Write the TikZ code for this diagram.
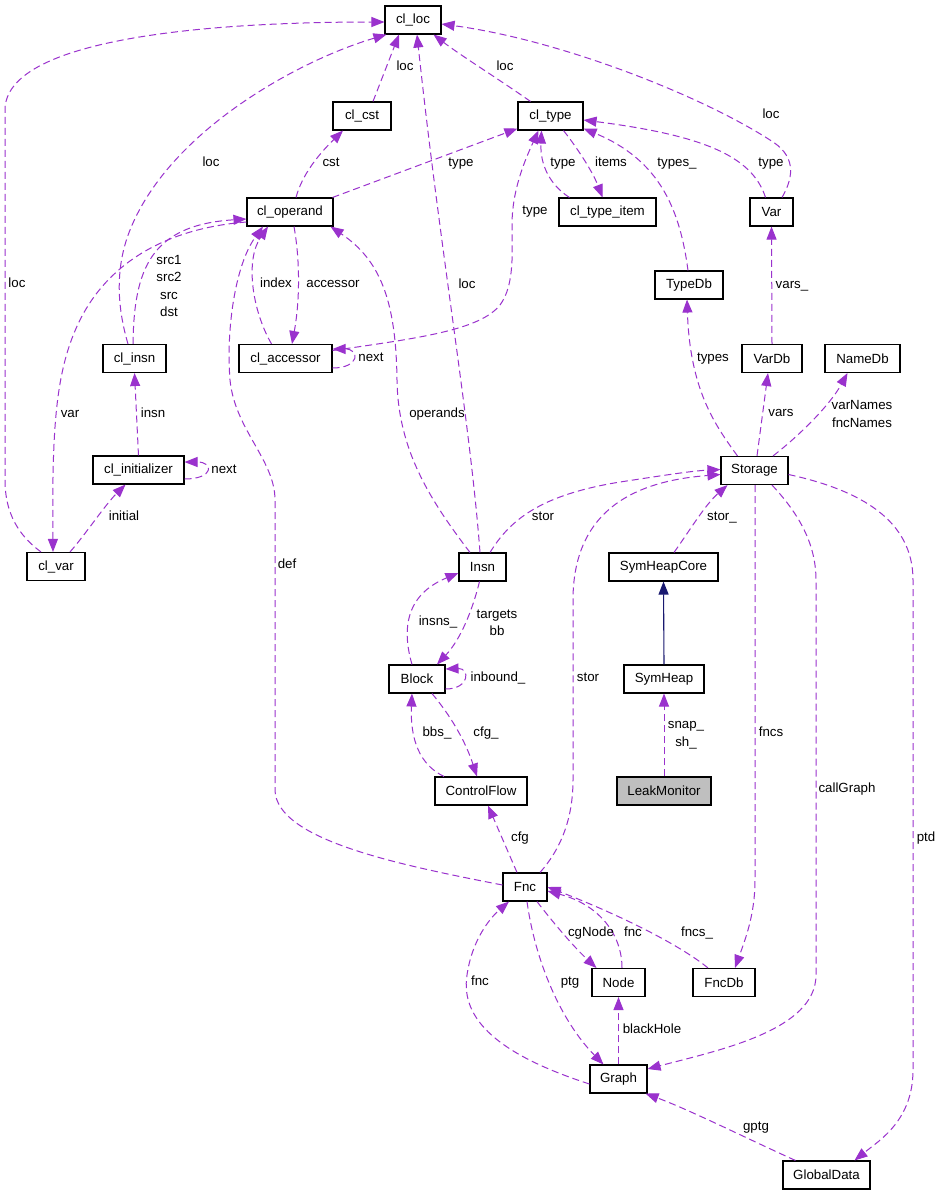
\documentclass[tikz,border=0pt]{standalone}
\usepackage{fontspec}
\setmainfont{Liberation Sans}
\usetikzlibrary{arrows.meta}
\definecolor{edgec}{HTML}{9A32CD}
\definecolor{inhc}{HTML}{191970}
\definecolor{leakfill}{HTML}{BFBFBF}
\newcommand\dxfont{\fontsize{13.3}{17.5}\selectfont}
\begin{document}
\begin{tikzpicture}[x=1pt,y=-1pt,
  cls/.style={draw=black, line width=1.1pt, fill=white, minimum height=28pt, inner sep=0pt, font=\dxfont},
  dep/.style={draw=edgec, line width=1pt, dash pattern=on 7pt off 4pt, -{Triangle[length=13pt,width=10pt]}},
  inh/.style={draw=inhc, line width=1.1pt, -{Triangle[length=13pt,width=10pt]}},
  lab/.style={font=\dxfont, inner sep=0pt, text height=9.5pt, text depth=2.5pt},
  mlab/.style={font=\dxfont, inner sep=0pt, align=center}]
\fill[white] (0,0) rectangle (941,1195);
\useasboundingbox (0,0) rectangle (941,1195);

% nodes
\node[cls, minimum width=56] (cl_loc) at (413,20) {cl\_loc};
\node[cls, minimum width=58] (cl_cst) at (362,116) {cl\_cst};
\node[cls, minimum width=65] (cl_type) at (550.5,116) {cl\_type};
\node[cls, minimum width=86] (cl_operand) at (290,212) {cl\_operand};
\node[cls, minimum width=97] (cl_type_item) at (607.5,212) {cl\_type\_item};
\node[cls, minimum width=43] (Var) at (771.5,212) {Var};
\node[cls, minimum width=68] (TypeDb) at (689,285) {TypeDb};
\node[cls, minimum width=63] (cl_insn) at (134.5,358.5) {cl\_insn};
\node[cls, minimum width=93] (cl_accessor) at (285.5,358.5) {cl\_accessor};
\node[cls, minimum width=60] (VarDb) at (772,358.5) {VarDb};
\node[cls, minimum width=75] (NameDb) at (862.5,358.5) {NameDb};
\node[cls, minimum width=91] (cl_initializer) at (138.5,470) {cl\_initializer};
\node[cls, minimum width=67] (Storage) at (754.5,470.5) {Storage};
\node[cls, minimum width=58] (cl_var) at (56,566.5) {cl\_var};
\node[cls, minimum width=47] (Insn) at (482.5,567) {Insn};
\node[cls, minimum width=109] (SymHeapCore) at (663.5,567) {SymHeapCore};
\node[cls, minimum width=56] (Block) at (417,679) {Block};
\node[cls, minimum width=80] (SymHeap) at (664,679) {SymHeap};
\node[cls, minimum width=92] (ControlFlow) at (481,791) {ControlFlow};
\node[cls, minimum width=94, fill=leakfill] (LeakMonitor) at (664,791) {LeakMonitor};
\node[cls, minimum width=44] (Fnc) at (525,887) {Fnc};
\node[cls, minimum width=53] (Node) at (618.5,982.5) {Node};
\node[cls, minimum width=62] (FncDb) at (724,982.5) {FncDb};
\node[cls, minimum width=57] (Graph) at (618.5,1079) {Graph};
\node[cls, minimum width=87] (GlobalData) at (826.5,1175) {GlobalData};

% edges to cl_loc
\draw[dep] ([xshift=-15pt]cl_var.north) .. controls (25,540) and (5,520) .. (5,480) -- (5,110) .. controls (5,40) and (200,22) .. ([yshift=-2pt]cl_loc.west);
\draw[dep] ([xshift=-6.5pt]cl_insn.north) .. controls (118,310) and (114,270) .. (130,230) .. controls (170,130) and (300,60) .. ([xshift=2pt]cl_loc.south west);
\draw[dep] ([xshift=11pt]cl_cst.north) -- ([xshift=-14pt]cl_loc.south);
\draw[dep] ([xshift=-2.5pt]Insn.north) .. controls (470,420) and (440,250) .. ([xshift=4pt]cl_loc.south);
\draw[dep] ([xshift=-20pt]cl_type.north) .. controls (500,80) and (460,55) .. ([xshift=-8pt]cl_loc.south east);
\draw[dep] ([xshift=10.5pt]Var.north) .. controls (795,175) and (795,155) .. (770,140) .. controls (700,95) and (560,40) .. ([yshift=-4pt]cl_loc.east);

% cl_operand / cl_type area
\draw[dep] ([xshift=6pt]cl_operand.north) .. controls (302,175) and (318,155) .. ([xshift=-19pt]cl_cst.south);
\draw[dep] ([xshift=-1pt]cl_operand.north east) -- ([yshift=2pt]cl_type.south west);
\draw[dep] ([xshift=11pt]cl_type_item.north west) .. controls (550,185) and (540,165) .. ([xshift=-9pt]cl_type.south);
\draw[dep] ([xshift=13pt]cl_type.south) .. controls (575,145) and (592,170) .. ([xshift=-5pt]cl_type_item.north);
\draw[dep] ([xshift=-1pt]TypeDb.north) .. controls (680,210) and (660,160) .. ([yshift=2pt]cl_type.south east);
\draw[dep] ([xshift=-6pt]Var.north) .. controls (752,155) and (700,135) .. ([yshift=-4pt]cl_type.east);
\draw[dep] ([yshift=8pt]cl_accessor.east) .. controls (420,338) and (480,330) .. (500,305) .. controls (515,285) and (512,250) .. (512,225) .. controls (512,190) and (525,160) .. ([xshift=-12pt]cl_type.south);

\draw[dep] ([xshift=-1.5pt]cl_insn.north) .. controls (134,270) and (150,225) .. ([yshift=-7pt]cl_operand.west);
\draw[dep] ([yshift=-10pt]cl_operand.west) .. controls (170,228) and (110,260) .. (80,320) .. controls (55,370) and (52,430) .. ([xshift=-3pt]cl_var.north);
\draw[dep] ([xshift=-14pt]cl_accessor.north) .. controls (252,310) and (245,260) .. ([xshift=-22pt]cl_operand.south);
\draw[dep] ([yshift=2pt]Fnc.west) .. controls (400,865) and (276,840) .. (275,790) -- (275,500) .. controls (275,460) and (235,430) .. (230,380) .. controls (226,330) and (235,265) .. ([xshift=-27pt]cl_operand.south);
\draw[dep] ([xshift=4pt]cl_operand.south) .. controls (300,260) and (300,300) .. ([xshift=6.5pt]cl_accessor.north);
\draw[dep] ([xshift=-12.5pt]Insn.north) .. controls (430,500) and (398,450) .. (397,380) .. controls (396,300) and (380,260) .. ([xshift=-3pt]cl_operand.south east);
\draw[dep] ([yshift=-9.5pt]cl_accessor.east) .. controls (360,368) and (360,349) .. ([yshift=9.5pt]cl_accessor.east);
\draw[dep] ([yshift=-9pt]cl_initializer.east) .. controls (214,479) and (214,462) .. ([yshift=8pt]cl_initializer.east);
\draw[dep] (cl_initializer.north) -- (cl_insn.south);
\draw[dep] ([xshift=14pt]cl_var.north) .. controls (85,535) and (105,505) .. ([xshift=-13pt]cl_initializer.south);

% Insn / Block / ControlFlow
\draw[dep] ([xshift=-3pt]Insn.south) .. controls (472,612) and (460,640) .. ([xshift=20pt]Block.north);
\draw[dep] ([xshift=-5pt]Block.north) .. controls (402,630) and (405,595) .. ([yshift=-6pt]Insn.west);
\draw[dep] ([yshift=-10pt]Block.east) .. controls (470,689) and (470,668) .. ([yshift=10pt]Block.east);
\draw[dep] ([xshift=-37pt]ControlFlow.north) .. controls (420,765) and (410,740) .. ([xshift=-5pt]Block.south);
\draw[dep] ([xshift=15pt]Block.south) .. controls (450,715) and (465,740) .. ([xshift=-4pt]ControlFlow.north);
\draw[dep] ([xshift=-8pt]Fnc.north) -- ([xshift=7pt]ControlFlow.south);

% Storage
\draw[dep] ([xshift=15pt]Fnc.north) .. controls (560,850) and (573,820) .. (573,780) -- (573,600) .. controls (573,500) and (650,480) .. ([yshift=-4pt]Storage.west);
\draw[dep] ([xshift=7.5pt]Insn.north) .. controls (510,520) and (540,495) .. (620,482) .. controls (660,476) and (690,471) .. ([yshift=1pt]Storage.west);
\draw[dep] ([xshift=10.5pt]SymHeapCore.north) .. controls (690,530) and (705,505) .. ([xshift=-27pt]Storage.south);
\draw[inh] (SymHeap.north) -- (SymHeapCore.south);
\draw[dep] (LeakMonitor.north) -- (SymHeap.south);
\draw[dep] ([xshift=-17pt]Storage.north) .. controls (715,425) and (690,390) .. ([xshift=-2pt]TypeDb.south);
\draw[dep] ([xshift=2.5pt]Storage.north) -- ([xshift=-4pt]VarDb.south);
\draw[dep] ([xshift=18.5pt]Storage.north) .. controls (800,435) and (830,405) .. ([xshift=-15pt]NameDb.south);
\draw[dep] (VarDb.north) -- (Var.south);
\draw[dep] ([xshift=0.5pt]Storage.south) -- (755,880) .. controls (755,915) and (745,940) .. ([xshift=11pt]FncDb.north);
\draw[dep] ([xshift=17.5pt]Storage.south) .. controls (800,515) and (816,545) .. (816,580) -- (816,975) .. controls (816,1030) and (720,1050) .. ([yshift=10pt]Graph.east);
\draw[dep] ([yshift=-4pt]Storage.east) .. controls (860,490) and (913,520) .. (913,580) -- (913,1070) .. controls (913,1120) and (880,1140) .. ([xshift=28pt]GlobalData.north);

% bottom
\draw[dep] ([xshift=-16pt]FncDb.north) .. controls (680,945) and (620,915) .. (Fnc.east);
\draw[dep] ([xshift=3.5pt]Node.north) .. controls (622,935) and (600,905) .. ([yshift=-4pt]Fnc.east);
\draw[dep] ([xshift=12pt]Fnc.south) .. controls (555,925) and (575,948) .. ([xshift=-22pt]Node.north);
\draw[dep] ([xshift=2pt]Fnc.south) .. controls (535,960) and (560,1020) .. ([xshift=-15pt]Graph.north);
\draw[dep] ([yshift=-5pt]Graph.west) .. controls (500,1055) and (460,1020) .. (467,975) .. controls (472,940) and (490,918) .. ([xshift=-16pt]Fnc.south);
\draw[dep] (Graph.north) -- (Node.south);
\draw[dep] ([xshift=-31pt]GlobalData.north) .. controls (750,1140) and (690,1110) .. ([xshift=-2pt]Graph.south east);

% labels
\node[lab] (l1) at (17,284) {loc};
\node[lab] (l2) at (211,163) {loc};
\node[lab] (l3) at (405,67) {loc};
\node[lab] (l4) at (467,285) {loc};
\node[lab] (l5) at (505,67) {loc};
\node[lab] (l6) at (771,115) {loc};
\node[lab] (l7) at (331,163) {cst};
\node[lab] (l8) at (461,163) {type};
\node[lab] (l9) at (563,163) {type};
\node[lab] (l10) at (611,163) {items};
\node[lab] (l11) at (677,163) {types\_};
\node[lab] (l12) at (771,163) {type};
\node[lab] (l13) at (535,211) {type};
\node[mlab] (l14) at (169,286) {src1\\src2\\src\\dst};
\node[lab] (l15) at (276,284) {index};
\node[lab] (l16) at (333,284) {accessor};
\node[lab] (l17) at (70,414) {var};
\node[lab] (l18) at (153,414) {insn};
\node[lab] (l19) at (437,414) {operands};
\node[lab] (l20) at (371,358) {next};
\node[lab] (l21) at (224,470) {next};
\node[lab] (l22) at (713,358) {types};
\node[lab] (l23) at (781,413) {vars};
\node[lab] (l24) at (792,285) {vars\_};
\node[mlab] (l25) at (862,414) {varNames\\fncNames};
\node[lab] (l26) at (124,517) {initial};
\node[lab] (l27) at (543,517) {stor};
\node[lab] (l28) at (722,517) {stor\_};
\node[lab] (l29) at (287,565) {def};
\node[mlab] (l30) at (497,623) {targets\\bb};
\node[lab] (l31) at (438,622) {insns\_};
\node[lab] (l32) at (498,678) {inbound\_};
\node[lab] (l33) at (588,678) {stor};
\node[lab] (l34) at (437,733) {bbs\_};
\node[lab] (l35) at (486,733) {cfg\_};
\node[mlab] (l36) at (686,735) {snap\_\\sh\_};
\node[lab] (l37) at (771,733) {fncs};
\node[lab] (l38) at (847,789) {callGraph};
\node[lab] (l39) at (926,838) {ptd};
\node[lab] (l40) at (520,838) {cfg};
\node[lab] (l41) at (591,933) {cgNode};
\node[lab] (l42) at (633,933) {fnc};
\node[lab] (l43) at (697,933) {fncs\_};
\node[lab] (l44) at (480,982) {fnc};
\node[lab] (l45) at (570,982) {ptg};
\node[lab] (l46) at (652,1030) {blackHole};
\node[lab] (l47) at (756,1127) {gptg};
\end{tikzpicture}
\end{document}
